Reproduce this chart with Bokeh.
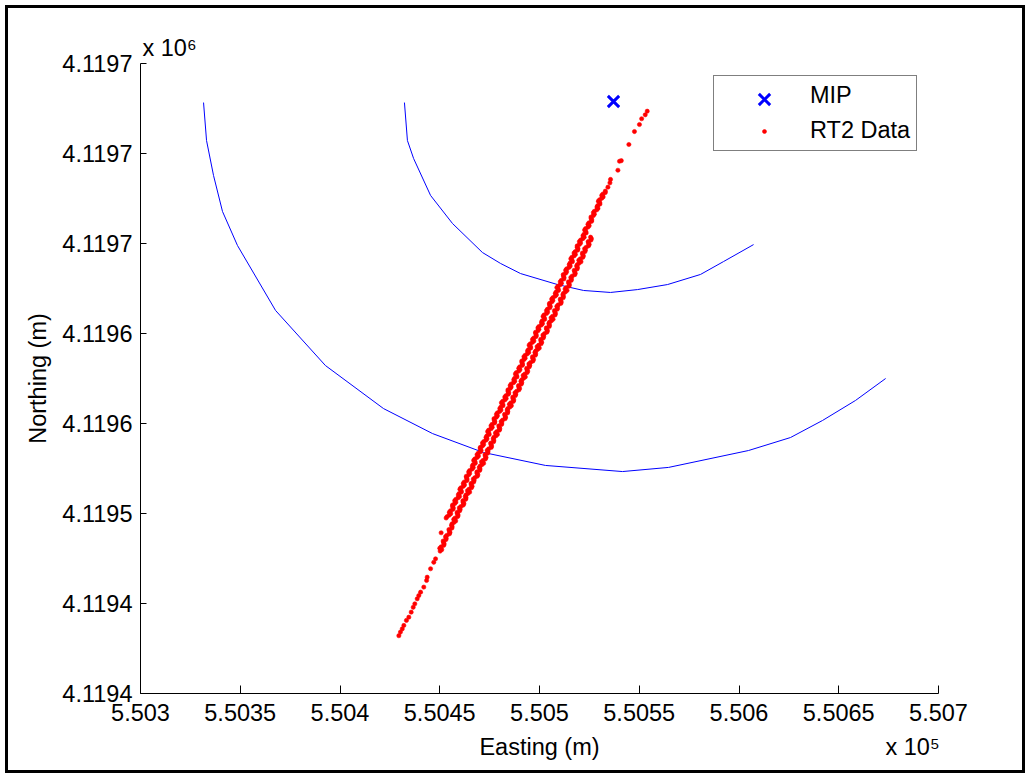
from bokeh.plotting import figure
from bokeh.models import (Range1d, FixedTicker, Legend, LegendItem, ColumnDataSource,
                          LinearAxis, Title)
from bokeh.embed import file_html
from bokeh.resources import INLINE

# ---------------- data ----------------
x_ticks = [550300, 550350, 550400, 550450, 550500, 550550, 550600, 550650, 550700]
x_tick_labels = ["5.503", "5.5035", "5.504", "5.5045", "5.505", "5.5055", "5.506", "5.5065", "5.507"]
y_ticks = [4119400, 4119450, 4119500, 4119550, 4119600, 4119650, 4119700, 4119750]
y_tick_labels = ["4.1194", "4.1194", "4.1195", "4.1196", "4.1196", "4.1197", "4.1197", "4.1197"]
x_exponent = "x 10\u2075"
y_exponent = "x 10\u2076"

mip_east = [550537.1]
mip_north = [4119728.9]

outer_east = [550331.6, 550333.1, 550336.6, 550341.1, 550348.6, 550367.7, 550392.7, 550421.8, 550446.4,
              550471.9, 550503.0, 550541.6, 550564.7, 550604.8, 550625.8, 550641.9, 550658.4, 550673.5]
outer_north = [4119728.3, 4119707.2, 4119687.8, 4119667.8, 4119648.9, 4119612.8, 4119582.2, 4119558.3, 4119544.4,
               4119533.9, 4119526.7, 4119523.3, 4119525.6, 4119535.0, 4119542.2, 4119551.7, 4119562.8, 4119575.0]

inner_east = [550432.3, 550433.8, 550436.9, 550445.4, 550456.4, 550471.4, 550480.5, 550490.5,
              550509.0, 550522.1, 550535.6, 550549.1, 550564.2, 550580.7, 550592.3, 550607.3]
inner_north = [4119728.3, 4119707.2, 4119697.2, 4119676.7, 4119661.1, 4119645.0, 4119638.9, 4119633.3,
               4119627.2, 4119623.9, 4119622.8, 4119624.4, 4119627.2, 4119632.8, 4119640.0, 4119649.4]

# RT2 data: sparse head of the track
head_east = [550554.0, 550553.0, 550551.2, 550550.1, 550547.6, 550544.8, 550541.0, 550540.1, 550539.3,
             550535.6, 550535.3, 550534.3, 550533.0]
head_north = [4119723.5, 4119721.5, 4119719.3, 4119716.1, 4119712.2, 4119705.0, 4119696.0, 4119695.7, 4119690.7,
              4119685.6, 4119683.7, 4119681.3, 4119679.1]

# RT2 data: first (left) dense pass
passA_east = [
    550533.0, 550531.2, 550531.2, 550529.5, 550530.3, 550528.8, 550528.7, 550527.0, 550527.0, 550525.9,
    550526.1, 550524.3, 550524.3, 550522.6, 550523.4, 550521.8, 550521.7, 550520.0, 550520.0, 550518.9,
    550519.1, 550517.3, 550517.3, 550515.7, 550516.5, 550514.9, 550514.8, 550513.1, 550513.1, 550512.0,
    550512.2, 550510.4, 550510.4, 550508.7, 550509.5, 550507.9, 550507.8, 550506.1, 550506.1, 550505.0,
    550505.2, 550503.5, 550503.5, 550501.8, 550502.6, 550501.0, 550500.9, 550499.2, 550499.2, 550498.1,
    550498.3, 550496.5, 550496.5, 550494.8, 550495.6, 550494.0, 550493.9, 550492.2, 550492.2, 550491.2,
    550491.4, 550489.6, 550489.6, 550487.9, 550488.7, 550487.1, 550487.0, 550485.3, 550485.3, 550484.2,
    550484.4, 550482.6, 550482.6, 550480.9, 550481.7, 550480.1, 550480.0, 550478.4, 550478.4, 550477.3,
    550477.5, 550475.7, 550475.7, 550474.0, 550474.8, 550473.2, 550473.1, 550471.4, 550471.4, 550470.3,
    550470.5, 550468.7, 550468.7, 550467.0, 550467.8, 550466.3, 550466.2, 550464.5, 550464.5, 550463.4,
    550463.6, 550461.8, 550461.8, 550460.1, 550460.9, 550459.3, 550459.2, 550457.5, 550457.5, 550456.4,
    550456.6, 550454.8, 550454.8, 550453.2]
passA_north = [
    4119678.3, 4119676.7, 4119675.1, 4119673.5, 4119671.9, 4119670.3, 4119668.7, 4119667.1, 4119665.5, 4119663.9,
    4119662.3, 4119660.7, 4119659.1, 4119657.5, 4119655.9, 4119654.3, 4119652.7, 4119651.1, 4119649.5, 4119647.9,
    4119646.3, 4119644.7, 4119643.1, 4119641.5, 4119639.9, 4119638.3, 4119636.7, 4119635.1, 4119633.5, 4119631.9,
    4119630.3, 4119628.7, 4119627.1, 4119625.5, 4119623.9, 4119622.3, 4119620.7, 4119619.1, 4119617.5, 4119615.9,
    4119614.3, 4119612.7, 4119611.1, 4119609.5, 4119607.9, 4119606.3, 4119604.7, 4119603.1, 4119601.5, 4119599.9,
    4119598.3, 4119596.7, 4119595.1, 4119593.5, 4119591.9, 4119590.3, 4119588.7, 4119587.1, 4119585.5, 4119583.9,
    4119582.3, 4119580.7, 4119579.1, 4119577.5, 4119575.9, 4119574.3, 4119572.7, 4119571.1, 4119569.5, 4119567.9,
    4119566.3, 4119564.7, 4119563.1, 4119561.5, 4119559.9, 4119558.3, 4119556.7, 4119555.1, 4119553.5, 4119551.9,
    4119550.3, 4119548.7, 4119547.1, 4119545.5, 4119543.9, 4119542.3, 4119540.7, 4119539.1, 4119537.5, 4119535.9,
    4119534.3, 4119532.7, 4119531.1, 4119529.5, 4119527.9, 4119526.3, 4119524.7, 4119523.1, 4119521.5, 4119519.9,
    4119518.3, 4119516.7, 4119515.1, 4119513.5, 4119511.9, 4119510.3, 4119508.7, 4119507.1, 4119505.5, 4119503.9,
    4119502.3, 4119500.7, 4119499.1, 4119497.5]

# RT2 data: fixes of the first pass recorded between the ones above
passA2_east = [
    550531.8, 550531.9, 550530.1, 550530.2, 550529.2, 550529.3, 550527.5, 550527.5, 550525.8, 550526.2,
    550524.8, 550524.9, 550523.1, 550523.2, 550522.3, 550522.4, 550520.6, 550520.6, 550518.9, 550519.3,
    550517.9, 550518.0, 550516.2, 550516.3, 550515.3, 550515.4, 550513.6, 550513.6, 550511.9, 550512.3,
    550510.9, 550511.0, 550509.3, 550509.4, 550508.4, 550508.5, 550506.7, 550506.7, 550505.0, 550505.4,
    550504.0, 550504.1, 550502.3, 550502.4, 550501.4, 550501.5, 550499.7, 550499.7, 550498.0, 550498.4,
    550497.1, 550497.2, 550495.4, 550495.5, 550494.5, 550494.6, 550492.8, 550492.8, 550491.1, 550491.5,
    550490.1, 550490.2, 550488.4, 550488.5, 550487.5, 550487.6, 550485.8, 550485.8, 550484.2, 550484.6,
    550483.2, 550483.3, 550481.5, 550481.6, 550480.6, 550480.7, 550478.9, 550478.9, 550477.2, 550477.6,
    550476.2, 550476.3, 550474.5, 550474.6, 550473.6, 550473.7, 550472.0, 550472.0, 550470.3, 550470.7,
    550469.3, 550469.4, 550467.6, 550467.7, 550466.7, 550466.8, 550465.0, 550465.0, 550463.3, 550463.7,
    550462.3, 550462.4, 550460.6, 550460.7, 550459.7, 550459.9, 550458.1, 550458.1, 550456.4, 550456.8,
    550455.4, 550455.5, 550453.7]
passA2_north = [
    4119677.5, 4119675.9, 4119674.3, 4119672.7, 4119671.1, 4119669.5, 4119667.9, 4119666.3, 4119664.7, 4119663.1,
    4119661.5, 4119659.9, 4119658.3, 4119656.7, 4119655.1, 4119653.5, 4119651.9, 4119650.3, 4119648.7, 4119647.1,
    4119645.5, 4119643.9, 4119642.3, 4119640.7, 4119639.1, 4119637.5, 4119635.9, 4119634.3, 4119632.7, 4119631.1,
    4119629.5, 4119627.9, 4119626.3, 4119624.7, 4119623.1, 4119621.5, 4119619.9, 4119618.3, 4119616.7, 4119615.1,
    4119613.5, 4119611.9, 4119610.3, 4119608.7, 4119607.1, 4119605.5, 4119603.9, 4119602.3, 4119600.7, 4119599.1,
    4119597.5, 4119595.9, 4119594.3, 4119592.7, 4119591.1, 4119589.5, 4119587.9, 4119586.3, 4119584.7, 4119583.1,
    4119581.5, 4119579.9, 4119578.3, 4119576.7, 4119575.1, 4119573.5, 4119571.9, 4119570.3, 4119568.7, 4119567.1,
    4119565.5, 4119563.9, 4119562.3, 4119560.7, 4119559.1, 4119557.5, 4119555.9, 4119554.3, 4119552.7, 4119551.1,
    4119549.5, 4119547.9, 4119546.3, 4119544.7, 4119543.1, 4119541.5, 4119539.9, 4119538.3, 4119536.7, 4119535.1,
    4119533.5, 4119531.9, 4119530.3, 4119528.7, 4119527.1, 4119525.5, 4119523.9, 4119522.3, 4119520.7, 4119519.1,
    4119517.5, 4119515.9, 4119514.3, 4119512.7, 4119511.1, 4119509.5, 4119507.9, 4119506.3, 4119504.7, 4119503.1,
    4119501.5, 4119499.9, 4119498.3]

# RT2 data: second (right) dense pass
passB_east = [
    550525.6, 550525.8, 550524.5, 550524.6, 550522.6, 550522.8, 550521.6, 550521.7, 550519.7, 550519.9,
    550518.6, 550518.9, 550517.6, 550517.7, 550515.7, 550515.9, 550514.7, 550514.8, 550512.8, 550513.0,
    550511.7, 550511.9, 550510.6, 550510.7, 550508.7, 550508.9, 550507.7, 550507.8, 550505.8, 550506.0,
    550504.7, 550504.9, 550503.6, 550503.7, 550501.7, 550501.9, 550500.7, 550500.8, 550498.8, 550499.0,
    550497.7, 550497.9, 550496.6, 550496.7, 550494.7, 550494.9, 550493.7, 550493.8, 550491.8, 550492.0,
    550490.7, 550490.9, 550489.6, 550489.7, 550487.7, 550487.9, 550486.7, 550486.9, 550484.9, 550485.1,
    550483.8, 550484.0, 550482.7, 550482.8, 550480.8, 550481.0, 550479.8, 550479.9, 550477.9, 550478.1,
    550476.8, 550477.0, 550475.7, 550475.8, 550473.8, 550474.0, 550472.8, 550472.9, 550470.9, 550471.1,
    550469.8, 550470.0, 550468.7, 550468.8, 550466.8, 550467.0, 550465.8, 550465.9, 550463.9, 550464.1,
    550462.8, 550463.0, 550461.7, 550461.8, 550459.8, 550460.0, 550458.8, 550459.0, 550457.0, 550457.2,
    550455.9, 550456.1, 550454.8, 550454.9, 550452.9, 550453.1, 550451.9, 550452.0, 550450.0, 550450.2]
passB_north = [
    4119653.5, 4119651.9, 4119650.3, 4119648.7, 4119647.1, 4119645.5, 4119643.9, 4119642.3, 4119640.7, 4119639.1,
    4119637.5, 4119635.9, 4119634.3, 4119632.7, 4119631.1, 4119629.5, 4119627.9, 4119626.3, 4119624.7, 4119623.1,
    4119621.5, 4119619.9, 4119618.3, 4119616.7, 4119615.1, 4119613.5, 4119611.9, 4119610.3, 4119608.7, 4119607.1,
    4119605.5, 4119603.9, 4119602.3, 4119600.7, 4119599.1, 4119597.5, 4119595.9, 4119594.3, 4119592.7, 4119591.1,
    4119589.5, 4119587.9, 4119586.3, 4119584.7, 4119583.1, 4119581.5, 4119579.9, 4119578.3, 4119576.7, 4119575.1,
    4119573.5, 4119571.9, 4119570.3, 4119568.7, 4119567.1, 4119565.5, 4119563.9, 4119562.3, 4119560.7, 4119559.1,
    4119557.5, 4119555.9, 4119554.3, 4119552.7, 4119551.1, 4119549.5, 4119547.9, 4119546.3, 4119544.7, 4119543.1,
    4119541.5, 4119539.9, 4119538.3, 4119536.7, 4119535.1, 4119533.5, 4119531.9, 4119530.3, 4119528.7, 4119527.1,
    4119525.5, 4119523.9, 4119522.3, 4119520.7, 4119519.1, 4119517.5, 4119515.9, 4119514.3, 4119512.7, 4119511.1,
    4119509.5, 4119507.9, 4119506.3, 4119504.7, 4119503.1, 4119501.5, 4119499.9, 4119498.3, 4119496.7, 4119495.1,
    4119493.5, 4119491.9, 4119490.3, 4119488.7, 4119487.1, 4119485.5, 4119483.9, 4119482.3, 4119480.7, 4119479.1]

# RT2 data: fixes of the second pass recorded between the ones above
passB2_east = [
    550526.0, 550524.4, 550524.9, 550523.4, 550523.0, 550521.5, 550522.0, 550520.5, 550520.8, 550519.0,
    550519.0, 550517.4, 550517.9, 550516.4, 550516.0, 550514.5, 550515.0, 550513.5, 550513.8, 550512.0,
    550512.0, 550510.4, 550510.9, 550509.4, 550509.0, 550507.5, 550508.0, 550506.5, 550506.8, 550505.0,
    550505.0, 550503.4, 550504.0, 550502.5, 550502.1, 550500.6, 550501.1, 550499.6, 550499.9, 550498.1,
    550498.1, 550496.5, 550497.0, 550495.5, 550495.1, 550493.6, 550494.1, 550492.6, 550492.9, 550491.1,
    550491.1, 550489.5, 550490.0, 550488.5, 550488.1, 550486.6, 550487.1, 550485.6, 550485.9, 550484.1,
    550484.1, 550482.5, 550483.0, 550481.5, 550481.1, 550479.6, 550480.1, 550478.6, 550478.9, 550477.1,
    550477.1, 550475.5, 550476.0, 550474.5, 550474.2, 550472.7, 550473.2, 550471.7, 550472.0, 550470.2,
    550470.2, 550468.6, 550469.1, 550467.6, 550467.2, 550465.7, 550466.2, 550464.7, 550465.0, 550463.2,
    550463.2, 550461.6, 550462.1, 550460.6, 550460.2, 550458.7, 550459.2, 550457.7, 550458.0, 550456.2,
    550456.2, 550454.6, 550455.1, 550453.6, 550453.2, 550451.7, 550452.2, 550450.7, 550451.0]
passB2_north = [
    4119652.7, 4119651.1, 4119649.5, 4119647.9, 4119646.3, 4119644.7, 4119643.1, 4119641.5, 4119639.9, 4119638.3,
    4119636.7, 4119635.1, 4119633.5, 4119631.9, 4119630.3, 4119628.7, 4119627.1, 4119625.5, 4119623.9, 4119622.3,
    4119620.7, 4119619.1, 4119617.5, 4119615.9, 4119614.3, 4119612.7, 4119611.1, 4119609.5, 4119607.9, 4119606.3,
    4119604.7, 4119603.1, 4119601.5, 4119599.9, 4119598.3, 4119596.7, 4119595.1, 4119593.5, 4119591.9, 4119590.3,
    4119588.7, 4119587.1, 4119585.5, 4119583.9, 4119582.3, 4119580.7, 4119579.1, 4119577.5, 4119575.9, 4119574.3,
    4119572.7, 4119571.1, 4119569.5, 4119567.9, 4119566.3, 4119564.7, 4119563.1, 4119561.5, 4119559.9, 4119558.3,
    4119556.7, 4119555.1, 4119553.5, 4119551.9, 4119550.3, 4119548.7, 4119547.1, 4119545.5, 4119543.9, 4119542.3,
    4119540.7, 4119539.1, 4119537.5, 4119535.9, 4119534.3, 4119532.7, 4119531.1, 4119529.5, 4119527.9, 4119526.3,
    4119524.7, 4119523.1, 4119521.5, 4119519.9, 4119518.3, 4119516.7, 4119515.1, 4119513.5, 4119511.9, 4119510.3,
    4119508.7, 4119507.1, 4119505.5, 4119503.9, 4119502.3, 4119500.7, 4119499.1, 4119497.5, 4119495.9, 4119494.3,
    4119492.7, 4119491.1, 4119489.5, 4119487.9, 4119486.3, 4119484.7, 4119483.1, 4119481.5, 4119479.9]

# RT2 data: sparse tail and an isolated fix
tail_east = [550447.9, 550447.0, 550445.4, 550443.7, 550443.4, 550442.0, 550440.4, 550439.5, 550438.7,
             550437.5, 550436.7, 550435.7, 550434.5, 550433.3, 550432.0, 550431.2, 550430.3, 550429.5, 550450.7]
tail_north = [4119474.8, 4119472.9, 4119469.3, 4119464.6, 4119462.8, 4119459.1, 4119456.3, 4119454.4, 4119452.6,
              4119449.8, 4119447.9, 4119445.2, 4119442.4, 4119440.6, 4119437.8, 4119435.9, 4119434.1, 4119432.1, 4119489.3]

rt2_east = head_east + passA_east + passA2_east + passB_east + passB2_east + tail_east
rt2_north = head_north + passA_north + passA2_north + passB_north + passB2_north + tail_north

# ---------------- figure ----------------
FONT = "Liberation Sans"
FS = "23.5px"

p = figure(width=1030, height=778, output_backend="svg", toolbar_location=None,
           x_range=Range1d(550300, 550700), y_range=Range1d(4119400, 4119750),
           min_border_left=140, min_border_right=92, min_border_top=63, min_border_bottom=85)
# frame line round the whole picture (drawn by the page behind a transparent border area)
p.styles = {"background-color": "white",
            "box-shadow": "inset 0 0 0 5px white, inset 0 0 0 8px black"}
p.border_fill_alpha = 0
p.outline_line_color = None
p.xgrid.visible = False
p.ygrid.visible = False
p.background_fill_color = "white"

p.line(outer_east, outer_north, line_color="#0000FF", line_width=1)
p.line(inner_east, inner_north, line_color="#0000FF", line_width=1)

rt2_src = ColumnDataSource(dict(x=rt2_east, y=rt2_north))
r_rt2 = p.scatter("x", "y", source=rt2_src, marker="circle", size=4.2,
                  fill_color="#FF0000", line_color="#FF0000", line_width=0.6)
mip_src = ColumnDataSource(dict(x=mip_east, y=mip_north))
r_mip = p.scatter("x", "y", source=mip_src, marker="x", size=16,
                  line_color="#0000FF", line_width=3)
# invisible twin used only as the key of the boxed legend row
r_mip_key = p.scatter("x", "y", source=mip_src, marker="x", size=16,
                      line_color="#0000FF", line_alpha=0, fill_alpha=0)

# axes
p.xaxis.ticker = FixedTicker(ticks=x_ticks)
p.xaxis.major_label_overrides = {t: l for t, l in zip(x_ticks, x_tick_labels)}
p.yaxis.ticker = FixedTicker(ticks=y_ticks)
p.yaxis.major_label_overrides = {t: l for t, l in zip(y_ticks, y_tick_labels)}
p.yaxis.axis_label = "Northing (m)"
for ax in (p.xaxis, p.yaxis):
    ax.axis_line_color = "black"
    ax.axis_line_width = 1
    ax.major_tick_line_color = "black"
    ax.major_tick_out = 0
    ax.minor_tick_line_color = None
    ax.major_label_text_font = FONT
    ax.major_label_text_font_size = FS
    ax.major_label_text_color = "black"
    ax.axis_label_text_font = FONT
    ax.axis_label_text_font_size = FS
    ax.axis_label_text_font_style = "normal"
    ax.axis_label_text_color = "black"
p.xaxis.major_tick_in = 8
p.yaxis.major_tick_in = 6
p.xaxis.major_label_standoff = 10
p.yaxis.major_label_standoff = 8
p.yaxis.axis_label_standoff = 8

# second row below the x axis: axis title (centre) and exponent (right)
label_axis = LinearAxis(ticker=FixedTicker(ticks=[550500, 550687]),
                        major_label_overrides={550500: "Easting (m)", 550687: x_exponent})
label_axis.axis_line_color = None
label_axis.major_tick_line_color = None
label_axis.minor_tick_line_color = None
label_axis.major_label_standoff = 4
label_axis.major_label_text_font = FONT
label_axis.major_label_text_font_size = FS
label_axis.major_label_text_color = "black"
p.add_layout(label_axis, "below")

# exponent of the y axis, above the plot at its left edge
p.add_layout(Title(text=y_exponent, align="left", offset=2, standoff=5,
                   text_font=FONT, text_font_size=FS, text_font_style="normal",
                   text_color="black"), "above")

legend = Legend(items=[LegendItem(label="MIP", renderers=[r_mip_key]),
                       LegendItem(label="RT2 Data", renderers=[r_rt2])],
                location=(573, 542))
legend.border_line_color = "black"
legend.border_line_width = 1
legend.background_fill_color = "white"
legend.background_fill_alpha = 1
legend.padding = 6
legend.spacing = 8
legend.margin = 0
legend.glyph_width = 88
legend.glyph_height = 10
legend.label_height = 20
legend.label_standoff = 2
legend.label_text_font = FONT
legend.label_text_font_size = FS
legend.label_text_color = "black"
p.add_layout(legend)

# key of the MIP row, drawn at the marker's full size
legend_key = Legend(items=[LegendItem(label=" ", renderers=[r_mip])], location=(604, 574))
legend_key.border_line_color = None
legend_key.background_fill_alpha = 0
legend_key.padding = 0
legend_key.margin = 0
legend_key.spacing = 0
legend_key.glyph_width = 40
legend_key.glyph_height = 40
legend_key.label_height = 0
legend_key.label_standoff = 0
legend_key.label_text_font_size = "2px"
p.add_layout(legend_key)

open("out.html", "w").write(file_html(p, INLINE))
